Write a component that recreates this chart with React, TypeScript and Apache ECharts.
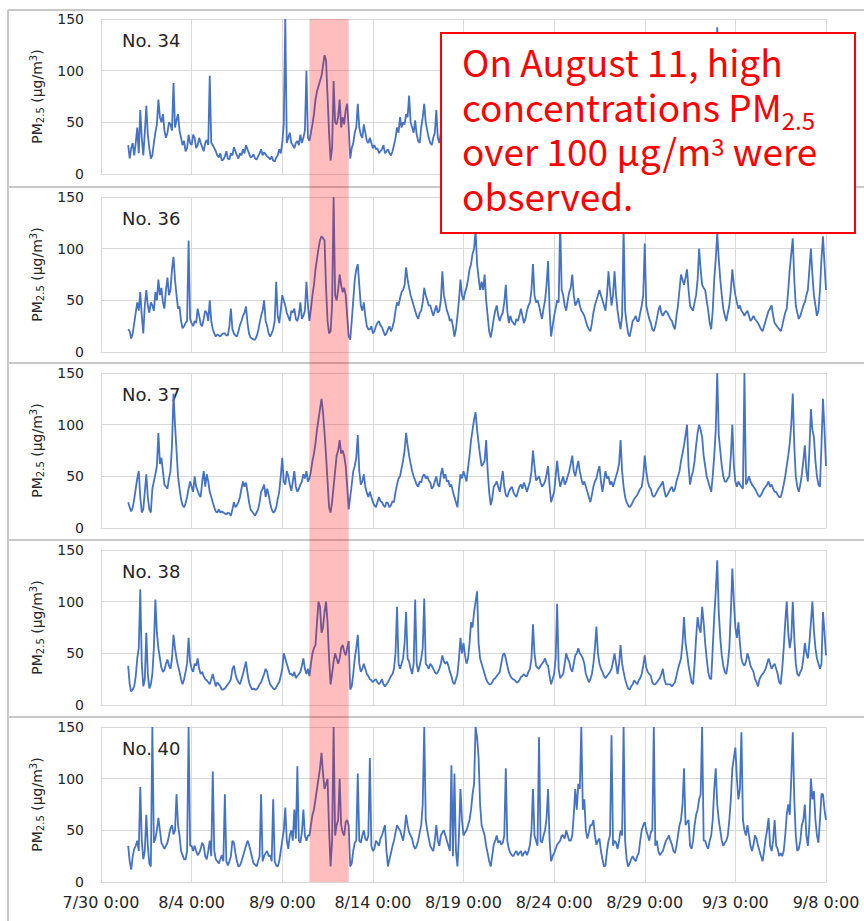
import React, { useEffect, useRef } from "react";
import * as echarts from "echarts";

// ---------- data ----------
const stationNames = ["No. 34", "No. 36", "No. 37", "No. 38", "No. 40"];
const startHour = 36; // hours after 7/30 0:00 (7/31 12:00)
const stepHours = 2;
const xMaxHours = 960;
const xTickHours = 120;
const xTickLabels = ["7/30 0:00", "8/4 0:00", "8/9 0:00", "8/14 0:00", "8/19 0:00", "8/24 0:00", "8/29 0:00", "9/3 0:00", "9/8 0:00"];
const yTicks = [0, 50, 100, 150];
const highBandHours = [276, 328];

const no34 = [
  28, 15, 25, 30, 18, 30, 45, 20, 62, 35, 18, 40, 66, 38, 25, 15, 18, 30, 40, 48,
  72, 55, 50, 58, 42, 35, 40, 50, 48, 42, 88, 45, 52, 58, 42, 35, 28, 32, 22, 25,
  38, 30, 28, 38, 35, 25, 28, 35, 30, 26, 22, 30, 33, 28, 95, 30, 28, 25, 22, 18,
  16, 20, 13, 14, 17, 22, 15, 14, 20, 18, 26, 22, 18, 15, 20, 18, 24, 20, 28, 24,
  20, 16, 17, 19, 15, 14, 17, 20, 24, 18, 21, 19, 17, 16, 14, 17, 13, 12, 16, 18,
  24, 20, 30, 48, 150, 30, 35, 40, 30, 28, 25, 30, 32, 28, 38, 30, 35, 42, 100, 35,
  32, 40, 48, 58, 72, 80, 85, 90, 95, 105, 115, 110, 75, 40, 13, 25, 90, 50, 48, 55,
  72, 45, 55, 48, 62, 68, 45, 15, 25, 30, 40, 45, 68, 45, 38, 35, 48, 40, 32, 30,
  35, 30, 25, 28, 24, 25, 20, 22, 24, 28, 20, 22, 24, 20, 18, 22, 28, 35, 45, 40,
  55, 45, 50, 48, 58, 55, 76, 50, 45, 40, 52, 38, 32, 30, 45, 55, 68, 50, 42, 35,
  30, 28, 35, 40, 62, 35, 30, 40, 60, 50, 45, 40, 35, 32, 30, 22, 18, 20, 30, 40,
  55, 50, 45, 40, 50, 55, 65, 70, 80, 85, 95, 75, 60, 50, 55, 62, 60, 45, 30, 18,
  15, 20, 28, 32, 38, 30, 28, 32, 35, 42, 55, 38, 25, 30, 28, 22, 24, 28, 26, 30,
  35, 28, 25, 30, 35, 38, 42, 50, 70, 50, 40, 35, 38, 32, 30, 36, 42, 50, 70, 40,
  16, 22, 30, 38, 45, 40, 95, 50, 45, 40, 35, 42, 50, 55, 62, 48, 40, 42, 45, 40,
  35, 32, 30, 26, 22, 20, 18, 25, 32, 36, 42, 46, 50, 45, 42, 38, 35, 45, 65, 50,
  40, 50, 62, 45, 35, 25, 20, 28, 90, 35, 25, 18, 15, 20, 25, 28, 30, 26, 28, 35,
  40, 50, 85, 45, 32, 28, 25, 20, 18, 24, 28, 35, 40, 35, 30, 32, 35, 28, 30, 28,
  26, 22, 20, 30, 40, 50, 62, 58, 55, 62, 70, 55, 40, 38, 35, 42, 48, 60, 85, 65,
  55, 52, 50, 42, 35, 25, 20, 40, 60, 80, 142, 75, 60, 45, 38, 32, 28, 35, 40, 55,
  68, 55, 48, 42, 38, 36, 35, 32, 30, 32, 35, 30, 28, 29, 30, 27, 26, 24, 22, 20,
  18, 22, 26, 30, 35, 38, 40, 32, 25, 24, 22, 20, 18, 22, 28, 32, 38, 50, 68, 80,
  90, 60, 40, 32, 28, 30, 35, 38, 42, 48, 52, 68, 85, 60, 48, 36, 30, 40, 50, 70,
  90, 70, 50,
];
const no36 = [
  22, 20, 13, 18, 28, 38, 48, 40, 58, 35, 18, 45, 60, 45, 38, 48, 45, 40, 58, 50,
  70, 55, 62, 48, 42, 60, 72, 55, 60, 80, 92, 70, 55, 42, 44, 30, 23, 25, 28, 30,
  108, 32, 28, 25, 30, 28, 42, 35, 27, 25, 32, 40, 38, 30, 50, 30, 22, 18, 15, 17,
  16, 15, 17, 18, 18, 16, 16, 25, 42, 22, 18, 16, 15, 20, 26, 30, 35, 38, 44, 28,
  18, 14, 13, 12, 12, 15, 20, 28, 35, 40, 50, 30, 25, 18, 15, 18, 22, 30, 68, 35,
  28, 40, 55, 50, 45, 38, 34, 30, 40, 38, 42, 32, 30, 36, 48, 32, 35, 40, 68, 45,
  30, 42, 55, 65, 80, 90, 100, 108, 112, 110, 108, 62, 30, 18, 20, 45, 150, 55, 50, 60,
  75, 65, 58, 62, 55, 35, 15, 12, 30, 50, 70, 80, 85, 65, 45, 40, 48, 35, 25, 22,
  22, 25, 18, 20, 25, 28, 30, 26, 24, 20, 16, 18, 22, 25, 20, 24, 30, 40, 48, 45,
  52, 58, 60, 65, 82, 70, 62, 55, 50, 45, 40, 35, 32, 38, 40, 48, 62, 55, 50, 45,
  45, 40, 35, 40, 45, 38, 40, 50, 78, 55, 48, 40, 36, 30, 32, 25, 15, 22, 35, 50,
  70, 55, 50, 58, 62, 70, 80, 85, 95, 100, 118, 85, 72, 60, 68, 60, 75, 50, 35, 20,
  14, 22, 32, 40, 45, 35, 30, 35, 38, 48, 65, 40, 28, 35, 30, 28, 26, 32, 30, 35,
  42, 35, 28, 32, 40, 45, 48, 60, 85, 55, 48, 50, 45, 38, 32, 42, 50, 65, 88, 40,
  15, 25, 35, 42, 50, 48, 125, 60, 55, 45, 40, 50, 58, 62, 75, 55, 45, 48, 52, 45,
  40, 38, 35, 30, 25, 22, 20, 28, 38, 45, 50, 55, 60, 55, 50, 45, 40, 55, 78, 60,
  45, 55, 78, 55, 40, 30, 22, 35, 120, 40, 28, 18, 15, 22, 30, 32, 35, 30, 30, 38,
  45, 55, 105, 45, 38, 32, 28, 22, 20, 25, 32, 40, 45, 38, 35, 38, 40, 38, 35, 32,
  30, 25, 22, 35, 45, 60, 75, 70, 65, 72, 80, 60, 45, 42, 40, 48, 55, 70, 100, 80,
  65, 62, 60, 50, 40, 28, 22, 40, 70, 90, 115, 90, 70, 55, 42, 35, 30, 38, 45, 60,
  80, 65, 55, 48, 42, 45, 40, 38, 35, 38, 40, 35, 30, 32, 35, 32, 30, 28, 25, 22,
  20, 25, 30, 35, 40, 42, 45, 35, 28, 26, 24, 22, 20, 25, 32, 38, 42, 60, 80, 95,
  110, 70, 45, 38, 32, 35, 40, 45, 48, 55, 60, 80, 100, 75, 55, 45, 35, 40, 60, 90,
  112, 85, 60,
];
const no37 = [
  25, 20, 16, 20, 28, 38, 48, 55, 30, 15, 18, 35, 52, 30, 18, 15, 38, 45, 52, 60,
  92, 62, 68, 55, 42, 40, 38, 48, 55, 80, 130, 100, 75, 50, 38, 28, 22, 20, 24, 30,
  38, 45, 40, 35, 50, 40, 36, 32, 30, 45, 55, 40, 52, 45, 35, 30, 25, 20, 16, 15,
  18, 15, 16, 15, 14, 13, 15, 14, 12, 18, 25, 20, 22, 25, 30, 38, 45, 40, 44, 35,
  25, 18, 16, 14, 12, 15, 18, 25, 35, 38, 42, 30, 38, 32, 24, 18, 15, 16, 20, 28,
  35, 50, 68, 45, 42, 55, 50, 42, 36, 45, 55, 40, 35, 38, 42, 45, 52, 48, 55, 45,
  48, 55, 65, 72, 82, 95, 105, 115, 125, 112, 92, 70, 45, 20, 15, 25, 40, 55, 70, 75,
  85, 72, 75, 70, 60, 40, 18, 30, 42, 55, 60, 68, 90, 55, 42, 45, 52, 40, 34, 30,
  35, 30, 25, 22, 20, 25, 30, 26, 25, 22, 20, 25, 24, 20, 22, 26, 25, 35, 42, 48,
  50, 58, 65, 75, 92, 80, 70, 62, 55, 50, 46, 42, 40, 45, 44, 50, 52, 48, 50, 46,
  44, 38, 40, 45, 50, 42, 40, 52, 58, 48, 52, 45, 46, 40, 42, 35, 30, 25, 20, 38,
  52, 48, 55, 50, 45, 58, 70, 85, 95, 105, 112, 95, 82, 70, 60, 62, 65, 85, 55, 35,
  22, 28, 40, 42, 45, 40, 35, 45, 55, 40, 32, 30, 35, 38, 40, 35, 32, 30, 35, 40,
  42, 38, 44, 40, 35, 40, 45, 55, 75, 60, 46, 48, 50, 44, 40, 42, 45, 52, 60, 40,
  25, 30, 35, 50, 65, 50, 40, 45, 50, 42, 45, 50, 55, 62, 70, 55, 50, 58, 65, 55,
  48, 42, 45, 40, 35, 30, 25, 32, 40, 45, 48, 55, 60, 45, 35, 45, 55, 48, 50, 42,
  45, 40, 45, 50, 55, 62, 85, 55, 40, 30, 25, 22, 20, 22, 25, 28, 30, 32, 35, 38,
  40, 50, 70, 55, 45, 40, 38, 32, 30, 32, 35, 38, 40, 42, 45, 36, 30, 32, 35, 38,
  40, 35, 38, 45, 50, 55, 65, 72, 80, 90, 100, 60, 42, 50, 55, 65, 80, 92, 100, 95,
  88, 70, 60, 50, 45, 40, 35, 50, 70, 95, 150, 90, 75, 60, 50, 45, 45, 48, 50, 70,
  100, 60, 45, 40, 45, 42, 40, 38, 150, 42, 45, 50, 45, 42, 40, 38, 35, 32, 30, 32,
  35, 38, 40, 42, 45, 40, 42, 38, 35, 35, 32, 30, 30, 35, 42, 50, 60, 70, 82, 100,
  130, 80, 50, 40, 35, 42, 52, 65, 80, 55, 45, 75, 115, 95, 88, 65, 50, 42, 40, 80,
  125, 95, 60,
];
const no38 = [
  38, 20, 13, 15, 18, 28, 45, 55, 112, 40, 18, 25, 70, 30, 16, 20, 30, 55, 102, 70,
  55, 45, 36, 32, 34, 40, 44, 38, 35, 45, 68, 55, 45, 38, 32, 25, 20, 25, 32, 40,
  65, 42, 35, 32, 40, 38, 45, 35, 30, 32, 28, 25, 24, 22, 20, 25, 30, 24, 18, 22,
  20, 18, 15, 15, 16, 18, 20, 22, 25, 35, 38, 30, 25, 22, 20, 25, 30, 36, 42, 30,
  22, 18, 15, 16, 15, 15, 17, 20, 22, 26, 30, 35, 32, 25, 20, 18, 16, 15, 17, 20,
  22, 28, 35, 50, 45, 40, 35, 30, 30, 28, 32, 26, 28, 30, 32, 38, 45, 35, 30, 35,
  28, 40, 50, 55, 58, 80, 100, 95, 70, 75, 90, 100, 80, 45, 20, 30, 42, 50, 45, 40,
  45, 55, 58, 52, 48, 55, 62, 15, 18, 30, 45, 55, 68, 40, 32, 35, 40, 35, 30, 28,
  25, 24, 22, 24, 25, 22, 20, 22, 25, 20, 18, 20, 22, 25, 28, 30, 35, 50, 95, 40,
  35, 40, 45, 60, 90, 45, 42, 35, 30, 40, 102, 40, 32, 38, 45, 55, 103, 40, 38, 35,
  40, 38, 35, 32, 30, 32, 35, 40, 48, 42, 40, 42, 38, 32, 28, 22, 20, 25, 30, 45,
  65, 50, 60, 48, 40, 45, 60, 80, 75, 90, 100, 110, 60, 45, 40, 35, 30, 25, 22, 20,
  20, 22, 25, 26, 28, 30, 32, 40, 48, 50, 45, 38, 32, 28, 26, 25, 24, 22, 22, 24,
  27, 28, 30, 28, 28, 32, 35, 45, 78, 50, 38, 36, 35, 38, 40, 42, 45, 40, 38, 28,
  20, 25, 30, 45, 98, 35, 26, 28, 30, 40, 50, 45, 42, 35, 32, 40, 48, 50, 55, 50,
  48, 45, 40, 30, 26, 22, 25, 30, 40, 55, 76, 50, 40, 35, 32, 28, 26, 28, 30, 32,
  35, 42, 50, 40, 30, 40, 58, 40, 32, 25, 20, 16, 15, 18, 20, 24, 22, 20, 24, 26,
  30, 38, 48, 36, 32, 30, 28, 22, 20, 20, 22, 24, 26, 30, 35, 25, 20, 20, 20, 20,
  18, 20, 22, 28, 35, 40, 45, 60, 85, 60, 50, 38, 30, 22, 20, 40, 65, 85, 75, 70,
  95, 80, 60, 45, 32, 26, 25, 55, 85, 110, 140, 90, 65, 48, 38, 32, 30, 40, 55, 90,
  132, 100, 75, 65, 80, 60, 45, 40, 38, 42, 50, 45, 38, 35, 32, 25, 22, 18, 25, 28,
  30, 32, 35, 40, 45, 40, 35, 38, 40, 35, 30, 22, 20, 35, 55, 80, 100, 70, 55, 65,
  100, 65, 40, 30, 28, 32, 35, 45, 60, 50, 45, 60, 80, 100, 72, 55, 45, 40, 35, 40,
  90, 70, 48,
];
const no40 = [
  35, 20, 12, 25, 32, 35, 40, 30, 92, 40, 22, 30, 65, 35, 18, 15, 150, 38, 42, 50,
  62, 50, 38, 35, 32, 35, 38, 45, 52, 55, 46, 50, 85, 55, 45, 30, 26, 22, 22, 30,
  150, 35, 35, 30, 35, 30, 26, 28, 32, 38, 35, 25, 22, 30, 40, 25, 107, 30, 22, 20,
  18, 22, 26, 20, 85, 20, 16, 20, 25, 40, 38, 28, 20, 15, 16, 20, 25, 30, 35, 40,
  36, 30, 24, 18, 17, 15, 20, 25, 85, 20, 25, 28, 30, 25, 26, 20, 80, 20, 16, 15,
  20, 30, 40, 50, 72, 40, 32, 45, 50, 40, 70, 42, 112, 40, 38, 48, 70, 45, 40, 45,
  45, 55, 65, 70, 80, 90, 100, 110, 125, 105, 90, 95, 100, 50, 15, 40, 150, 45, 55, 60,
  100, 55, 48, 45, 58, 60, 55, 15, 18, 30, 38, 40, 105, 40, 38, 45, 50, 42, 40, 45,
  120, 35, 30, 32, 40, 38, 35, 42, 45, 50, 55, 30, 15, 22, 28, 35, 40, 48, 55, 52,
  50, 45, 40, 50, 65, 55, 48, 45, 42, 35, 32, 35, 40, 48, 55, 75, 150, 60, 50, 42,
  35, 32, 30, 40, 55, 40, 35, 45, 48, 50, 45, 40, 35, 30, 113, 25, 105, 30, 15, 45,
  90, 60, 45, 48, 50, 55, 60, 70, 85, 95, 150, 140, 120, 75, 55, 50, 45, 35, 28, 20,
  15, 25, 36, 40, 45, 38, 40, 36, 38, 45, 110, 40, 32, 28, 26, 25, 28, 30, 26, 28,
  30, 25, 28, 30, 26, 30, 36, 50, 90, 45, 40, 35, 140, 40, 38, 45, 50, 62, 90, 40,
  20, 25, 28, 32, 36, 38, 40, 45, 45, 42, 50, 45, 40, 40, 45, 65, 90, 70, 95, 90,
  150, 70, 80, 50, 42, 48, 55, 55, 60, 45, 36, 40, 42, 30, 22, 15, 16, 30, 40, 45,
  142, 35, 40, 38, 32, 40, 50, 45, 150, 40, 22, 15, 18, 22, 25, 22, 20, 25, 28, 40,
  50, 55, 58, 50, 45, 40, 48, 50, 150, 35, 40, 30, 26, 28, 30, 35, 40, 42, 45, 40,
  36, 30, 28, 35, 45, 55, 60, 75, 110, 55, 58, 60, 35, 32, 40, 55, 65, 70, 80, 85,
  150, 40, 40, 35, 32, 40, 45, 60, 90, 110, 75, 60, 50, 40, 35, 38, 40, 45, 60, 80,
  110, 120, 130, 100, 80, 90, 145, 60, 50, 45, 55, 45, 35, 30, 36, 45, 42, 35, 30, 25,
  20, 30, 42, 50, 62, 35, 30, 40, 60, 35, 32, 25, 28, 25, 30, 45, 65, 75, 65, 100,
  145, 80, 45, 30, 32, 40, 55, 60, 75, 45, 35, 55, 100, 80, 88, 60, 45, 38, 60, 85,
  85, 70, 60,
];
const stationValues = [no34, no36, no37, no38, no40];

// ---------- layout ----------
const W = 864;
const H = 921;
const AXIS_FONT = '"DejaVu Sans", "Noto Sans", sans-serif';
const NOTE_FONT = '"Noto Sans CJK JP", "Noto Sans", sans-serif';
const TEXT = "#262626";
const GRIDC = "#d9d9d9";
const gridTops = [19, 197, 373, 550, 727];
const gridLeft = 101;
const gridWidth = 725;
const gridHeight = 155;
const frameYs = [10, 187, 363, 540, 717];

export default function App() {
  const ref = useRef<HTMLDivElement>(null);

  useEffect(() => {
    const chart = echarts.init(ref.current as HTMLDivElement, null, { renderer: "svg", width: W, height: H });

    const option: any = {
      animation: false,
      grid: gridTops.map((top) => ({ left: gridLeft, top, width: gridWidth, height: gridHeight })),
      xAxis: gridTops.map((_, i) => ({
        type: "value",
        gridIndex: i,
        min: 0,
        max: xMaxHours,
        interval: xTickHours,
        axisLine: { show: true, lineStyle: { color: GRIDC, width: 1 } },
        axisTick: { show: false },
        splitLine: { show: true, lineStyle: { color: GRIDC, width: 1 } },
        axisLabel: {
          show: i === gridTops.length - 1,
          showMinLabel: true,
          showMaxLabel: true,
          formatter: (v: number) => xTickLabels[Math.round(v / xTickHours)] ?? "",
          fontSize: 16,
          color: TEXT,
          margin: 12,
          fontFamily: AXIS_FONT,
        },
      })),
      yAxis: gridTops.map((_, i) => ({
        type: "value",
        gridIndex: i,
        min: yTicks[0],
        max: yTicks[yTicks.length - 1],
        interval: yTicks[1] - yTicks[0],
        axisLine: { show: true, lineStyle: { color: GRIDC, width: 1 } },
        axisTick: { show: false },
        splitLine: { show: true, lineStyle: { color: GRIDC, width: 1 } },
        axisLabel: { fontSize: 14, color: TEXT, margin: 17, fontFamily: AXIS_FONT },
        name: "PM{sub|2.5} (μg/m{sup|3})",
        nameLocation: "middle",
        nameRotate: 90,
        nameGap: 55,
        nameTextStyle: {
          fontSize: 14,
          color: TEXT,
          fontFamily: AXIS_FONT,
          lineHeight: 18,
          rich: {
            sub: { fontSize: 10, color: TEXT, fontFamily: AXIS_FONT, verticalAlign: "bottom", height: 11, lineHeight: 11 },
            sup: { fontSize: 10, color: TEXT, fontFamily: AXIS_FONT, verticalAlign: "top", height: 11, lineHeight: 11 },
          },
        },
      })),
      series: stationValues.map((vals, i) => ({
        type: "line",
        name: stationNames[i],
        xAxisIndex: i,
        yAxisIndex: i,
        showSymbol: false,
        symbol: "none",
        lineStyle: { color: "#4472C4", width: 1.8 },
        data: vals.map((v, k) => [startHour + k * stepHours, v]),
      })),
    };
    chart.setOption(option);

    const x0 = chart.convertToPixel({ xAxisIndex: 0 }, highBandHours[0]) as number;
    const x1 = chart.convertToPixel({ xAxisIndex: 0 }, highBandHours[1]) as number;
    const yTop = chart.convertToPixel({ yAxisIndex: 0 }, yTicks[yTicks.length - 1]) as number;
    const yBot = chart.convertToPixel({ yAxisIndex: gridTops.length - 1 }, yTicks[0]) as number;

    const graphics: any[] = [];
    frameYs.forEach((y, i) => {
      graphics.push({
        type: "line",
        id: "frame" + i,
        silent: true,
        z: 1,
        shape: { x1: 8, y1: y, x2: W, y2: y },
        style: { stroke: "#c8c8c8", lineWidth: 2 },
      });
    });
    graphics.push({
      type: "line",
      id: "frameLeft",
      silent: true,
      z: 1,
      shape: { x1: 8, y1: frameYs[0], x2: 8, y2: H },
      style: { stroke: "#c8c8c8", lineWidth: 2 },
    });
    gridTops.forEach((top, i) => {
      graphics.push({
        type: "text",
        id: "station" + i,
        silent: true,
        z: 3,
        x: 122,
        y: top + 21,
        style: { text: stationNames[i], fontSize: 18, fontFamily: AXIS_FONT, fill: TEXT, verticalAlign: "middle" },
      });
    });
    graphics.push({
      type: "rect",
      id: "band",
      silent: true,
      z: 5,
      shape: { x: x0, y: yTop, width: x1 - x0, height: yBot - yTop },
      style: { fill: "rgba(255,0,0,0.26)" },
    });
    graphics.push({
      type: "rect",
      id: "noteBox",
      silent: true,
      z: 10,
      shape: { x: 441, y: 33, width: 414, height: 200 },
      style: { fill: "#ffffff", stroke: "#ff0000", lineWidth: 2 },
    });
    graphics.push({
      type: "text",
      id: "noteText",
      silent: true,
      z: 11,
      x: 462,
      y: 39,
      style: {
        text: "{a|On August 11, high}\n{a|concentrations PM}{sub|2.5}\n{a|over 100 μg/m}{sup|3}{a| were}\n{a|observed.}",
        fill: "#ff0000",
        verticalAlign: "top",
        rich: {
          a: { fontSize: 37, fontFamily: NOTE_FONT, fill: "#ff0000", lineHeight: 44.5 },
          sub: { fontSize: 24, fontFamily: NOTE_FONT, fill: "#ff0000", verticalAlign: "bottom", height: 18, lineHeight: 18 },
          sup: { fontSize: 24, fontFamily: NOTE_FONT, fill: "#ff0000", verticalAlign: "top", height: 35, lineHeight: 35 },
        },
      },
    });
    chart.setOption({ graphic: graphics });

    return () => chart.dispose();
  }, []);

  return <div ref={ref} style={{ position: "absolute", left: 0, top: 0, width: W, height: H }} />;
}
